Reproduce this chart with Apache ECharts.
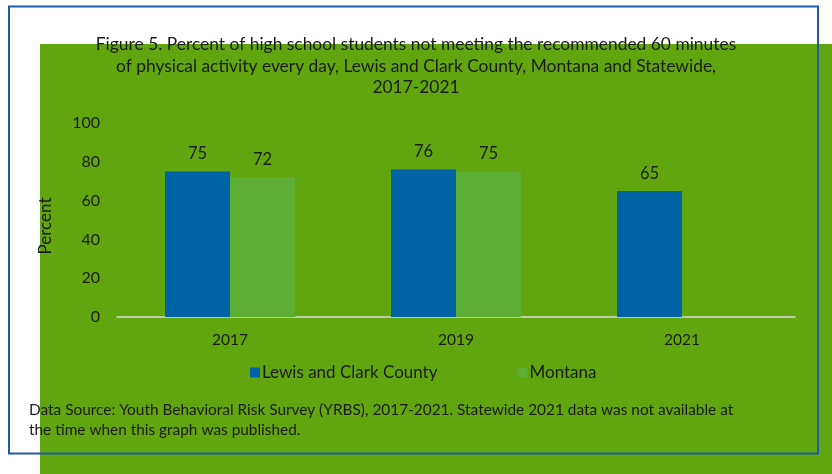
<!DOCTYPE html>
<html>
<head>
<meta charset="utf-8">
<script src="https://cdn.jsdelivr.net/npm/echarts@6/dist/echarts.min.js"></script>
<style>
html,body{margin:0;padding:0;background:#fff;}
#chart{width:832px;height:474px;}
</style>
</head>
<body>
<div id="chart"></div>
<script>
const categories = ['2017', '2019', '2021'];
const lewisClark = [75, 76, 65];
const montana = [72, 75, null];
const yTicks = [0, 20, 40, 60, 80, 100];
const seriesNames = ['Lewis and Clark County', 'Montana'];
const titleText = 'Figure 5. Percent of high school students not meeting the recommended 60 minutes\nof physical activity every day, Lewis and Clark County, Montana and Statewide,\n2017-2021';
const noteText = 'Data Source: Youth Behavioral Risk Survey (YRBS), 2017-2021. Statewide 2021 data was not available at\nthe time when this graph was published.';

const FONT = 'Lato';
const TXT = '#1a1a1a';
const chart = echarts.init(document.getElementById('chart'), null, {renderer: 'canvas'});
chart.setOption({
  animation: false,
  backgroundColor: '#ffffff',
  textStyle: {fontFamily: FONT},
  graphic: [
    {type: 'rect', z: -10, shape: {x: 40, y: 44, width: 792, height: 430}, style: {fill: '#62A60F'}, silent: true},
    {type: 'rect', z: 100, shape: {x: 9, y: 6.5, width: 809, height: 447}, style: {fill: null, stroke: '#1F5CA8', lineWidth: 2}, silent: true},
    {type: 'text', z: 101, left: 'center', top: 34, style: {text: titleText, font: '17.4px ' + FONT, fill: TXT, textAlign: 'center', lineHeight: 21.5}},
    {type: 'text', z: 101, left: 29, top: 400, style: {text: noteText, font: '15.4px ' + FONT, fill: TXT, lineHeight: 20}}
  ],
  grid: {left: 117, right: 37, top: 123, bottom: 157, containLabel: false},
  legend: {
    data: seriesNames,
    top: 359,
    left: 245,
    itemWidth: 10, itemHeight: 10, itemGap: 80,
    icon: 'rect',
    textStyle: {fontFamily: FONT, fontSize: 17, color: TXT, padding: [0, 0, 0, -3]}
  },
  xAxis: {
    type: 'category',
    data: categories,
    axisLine: {lineStyle: {color: '#D9D9D9', width: 1.5}},
    axisTick: {show: false},
    axisLabel: {fontFamily: FONT, fontSize: 15.5, color: TXT, margin: 15}
  },
  yAxis: {
    type: 'value',
    min: 0, max: 100, interval: 20,
    name: 'Percent',
    nameLocation: 'middle',
    nameGap: 63,
    nameTextStyle: {fontFamily: FONT, fontSize: 17, color: TXT, padding: [0, 12, 0, 0]},
    axisLine: {show: false},
    axisTick: {show: false},
    splitLine: {show: false},
    axisLabel: {fontFamily: FONT, fontSize: 16, color: TXT, margin: 17,
      formatter: v => yTicks.includes(v) ? String(v) : ''}
  },
  series: [
    {name: seriesNames[0], type: 'bar', data: lewisClark, barGap: '0%', barCategoryGap: '42.5%',
      itemStyle: {color: '#0063A6'},
      label: {show: true, position: 'top', distance: 9, fontFamily: FONT, fontSize: 16.5, color: TXT}},
    {name: seriesNames[1], type: 'bar', data: montana, barGap: '0%', barCategoryGap: '42.5%',
      itemStyle: {color: '#5CAE35'},
      label: {show: true, position: 'top', distance: 9, fontFamily: FONT, fontSize: 16.5, color: TXT}}
  ]
});
</script>
</body>
</html>
